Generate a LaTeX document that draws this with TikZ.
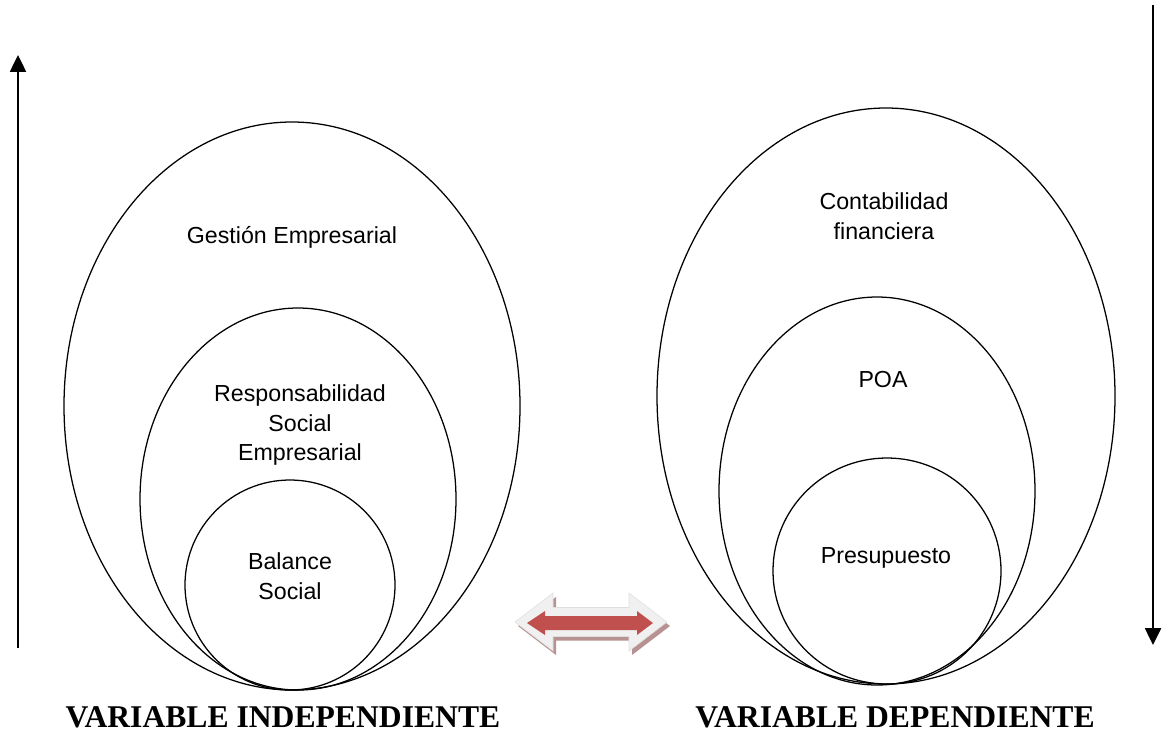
\documentclass[tikz,border=0pt]{standalone}
\usepackage{fontspec}
\setmainfont{Liberation Serif}
\setsansfont{Liberation Sans}
\usetikzlibrary{arrows.meta,positioning}

\definecolor{arrowred}{RGB}{192,80,77}
\definecolor{arrowlight}{RGB}{240,240,240}
\definecolor{arrowshade}{RGB}{184,146,146}

\tikzset{
  ring/.style={line width=0.9pt},
  lbl/.style={font=\sffamily\fontsize{16.5}{21.3}\selectfont, align=center},
  vartitle/.style={font=\bfseries\fontsize{22.5}{27}\selectfont, inner sep=1pt},
  axisline/.style={line width=1.3pt, -{Triangle[width=0.4cm,length=0.42cm]}},
}

\begin{document}
\begin{tikzpicture}[x=0.025cm,y=-0.025cm]
    \useasboundingbox (0,0) rectangle (1163,733);

    % Variable independiente
    \draw[ring] (292,406) ellipse [x radius=228, y radius=284];
    \draw[ring] (298,499) ellipse [x radius=158, y radius=191];
    \draw[ring] (290,585) ellipse [x radius=105, y radius=105];
    \node[lbl] (gestion) at (292,237) {Gestión Empresarial};
    \node[lbl] (rse) at (300,425) {Responsabilidad\\Social\\Empresarial};
    \node[lbl] (balance) at (290,576) {Balance\\Social};

    % Variable dependiente
    \draw[ring] (886,396) ellipse [x radius=229, y radius=288];
    \draw[ring] (877,491) ellipse [x radius=158, y radius=194];
    \draw[ring] (887,571) ellipse [x radius=114, y radius=113];
    \node[lbl] (contab) at (884,216) {Contabilidad\\financiera};
    \node[lbl] (poa) at (883,380) {POA};
    \node[lbl] (presup) at (886,558) {Presupuesto};

    % Side arrows
    \coordinate (lbot) at (18,648);
    \coordinate (ltop) at (18,55);
    \draw[axisline] (lbot) -- (ltop);
    \coordinate (rtop) at (1153,5);
    \coordinate (rbot) at (1153,645);
    \draw[axisline] (rtop) -- (rbot);

    % Double arrow
    \begin{scope}[shift={(591,622)}]
        % shadow
        \fill[arrowshade] (-73,4) -- (-35,-25) -- (-35,-10.5) -- (41,-10.5) -- (41,-25)
            -- (79,4) -- (41,33) -- (41,18.5) -- (-35,18.5) -- (-35,33) -- cycle;
        % light body
        \filldraw[fill=arrowlight, draw=gray!25] (-76,0) -- (-38,-29) -- (-38,-14.5) -- (38,-14.5) -- (38,-29)
            -- (76,0) -- (38,29) -- (38,14.5) -- (-38,14.5) -- (-38,29) -- cycle;
        % red core
        \fill[arrowred] (-64,1) -- (-46,-11) -- (-46,-6) -- (46,-6) -- (46,-11)
            -- (62,1) -- (46,13) -- (46,8) -- (-46,8) -- (-46,13) -- cycle;
    \end{scope}

    % Titles
    \node[vartitle] (indep) at (283,717) {VARIABLE INDEPENDIENTE};
    \node[vartitle] (dep) at (895,717) {VARIABLE DEPENDIENTE};
\end{tikzpicture}
\end{document}
